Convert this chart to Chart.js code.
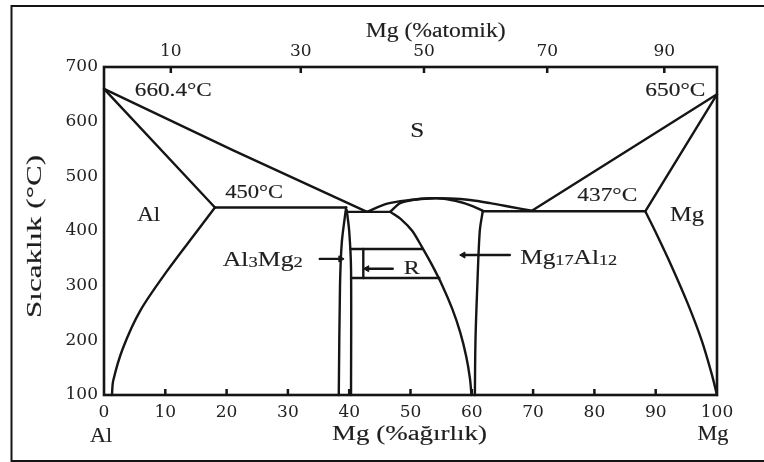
<!DOCTYPE html>
<html><head><meta charset="utf-8">
<script src="https://cdn.jsdelivr.net/npm/chart.js@4/dist/chart.umd.min.js"></script>
<style>html,body{margin:0;padding:0;background:#fff;}#wrap{width:764px;height:462px;}</style>
</head><body><div id="wrap"><canvas id="c" width="764" height="462"></canvas></div>
<script>
// ---- axis ticks ----
const bottomTicks = [0,10,20,30,40,50,60,70,80,90,100];
const topTickPos = [10.9,32.1,52.2,72.3,91.4];   // weight-% position of atomic-% ticks
const topTickLabels = ['10','30','50','70','90'];
const yTicks = [100,200,300,400,500,600,700];

// ---- phase boundaries (wt% Mg, °C) ----
const alLiquidus   = [[0,660],[21,548],[42.9,435]];
const alSolidus    = [[0,660],[18.1,443]];
const alSolvus     = [[18.1,443],[15.2,400],[10.3,327],[5.9,254],[3.1,186],[1.5,126],[1.3,100]];
const eutecticLeft = [[18.1,443],[39.5,443]];
const eutecticMid  = [[39.5,435],[46.7,435]];
const al3mg2Left   = [[38.3,100],[38.5,300],[38.8,380],[39.5,443]];
const al3mg2Right  = [[40.3,100],[40.3,330],[40.0,400],[39.6,438]];
const domeUpper    = [[42.9,435],[46.2,450],[49.9,456.7],[53.2,460],[56.5,459.5],[59.7,456.7],[63,451],[66.4,444],[69.8,437]];
const domeLower    = [[46.7,435],[48.3,451],[50.5,457],[53.2,459.5],[55.5,459],[58.1,453],[60,446],[61.8,437]];
const gammaLeft    = [[46.7,435],[48.6,420],[50.3,400],[51.9,370],[53.5,338],[55.2,300],[56.8,258],[58.1,215],[59.1,170],[59.7,130],[59.95,100]];
const gammaRight   = [[61.8,437],[61.3,400],[60.9,300],[60.6,200],[60.5,100]];
const eutecticRight= [[61.8,436],[88.3,436]];
const mgLiquidus   = [[69.8,437],[100,650]];
const mgSolidus    = [[88.3,436],[100,650]];
const mgSolvus     = [[88.3,436],[89.9,400],[92.5,338],[95.2,268],[97.5,200],[99.1,140],[100,100]];
const rTop         = [[40.3,367],[51.9,367]];
const rBottom      = [[40.3,314],[54.7,314]];
const rDivider     = [[42.3,367],[42.3,314]];
// arrows [from, to]
const arrowAl3Mg2  = [[35.2,349],[38.6,349]];
const arrowMg17    = [[66.2,356],[58.6,356]];
const arrowR       = [[47.1,331],[42.9,331]];

const straight = [alLiquidus, alSolidus, eutecticLeft, eutecticMid, eutecticRight, mgLiquidus, mgSolidus, rTop, rBottom, rDivider, arrowAl3Mg2, arrowMg17, arrowR];
const curved = [alSolvus, al3mg2Left, al3mg2Right, domeUpper, domeLower, gammaLeft, gammaRight, mgSolvus];

const INK = '#151515';
const toPts = a => a.map(p => ({x:p[0], y:p[1]}));
const datasets = [];
straight.forEach(a => datasets.push({data: toPts(a), showLine:true, borderColor:INK, borderWidth:2.4, pointRadius:0, tension:0, clip:false, borderCapStyle:'round', borderJoinStyle:'round'}));
curved.forEach(a => datasets.push({data: toPts(a), showLine:true, borderColor:INK, borderWidth:2.4, pointRadius:0, tension:0.3, clip:false, borderCapStyle:'round', borderJoinStyle:'round'}));
// arrow heads
[[arrowAl3Mg2,90],[arrowMg17,-90],[arrowR,-90]].forEach(([a,rot]) => datasets.push({
  data:[{x:a[1][0], y:a[1][1]}], showLine:false, pointStyle:'triangle', rotation:rot,
  pointRadius:3.5, backgroundColor:INK, borderColor:INK, borderWidth:1, clip:false}));

const SERIF = '"Liberation Serif", "Times New Roman", serif';
// text annotations: data coords, font size, target width
const labels = [
  {segs:[['660.4°C']], x:11.3, y:658, size:19, w:77},
  {segs:[['650°C']], x:93.2, y:658, size:19, w:60},
  {segs:[['S']], x:51.1, y:585, size:21, w:14},
  {segs:[['450°C']], x:24.5, y:472, size:19, w:58},
  {segs:[['Al']], x:7.3, y:430, size:20, w:23},
  {segs:[['437°C']], x:82.1, y:467, size:19, w:60},
  {segs:[['Mg']], x:95.1, y:431, size:20, w:34},
  {segs:[['Al'],['3',1],['Mg'],['2',1]], x:25.9, y:349, size:21, w:80},
  {segs:[['R']], x:50.2, y:333, size:19, w:16},
  {segs:[['Mg'],['17',1],['Al'],['12',1]], x:75.8, y:353, size:21, w:97}
];

function drawRich(ctx, segs, cx, cy, size, targetW, rot){
  const parts = segs.map(s => ({t:s[0], sub:!!s[1], sz: s[1] ? size*0.72 : size}));
  let natural = 0;
  parts.forEach(p => { ctx.font = p.sz + 'px ' + SERIF; p.w = ctx.measureText(p.t).width; natural += p.w; });
  const sx = targetW ? targetW / natural : 1;
  ctx.save();
  ctx.translate(cx, cy);
  if (rot) ctx.rotate(rot);
  ctx.scale(sx, 1);
  ctx.fillStyle = '#1e1e1e';
  ctx.strokeStyle = '#1e1e1e';
  ctx.lineWidth = 0.15;
  ctx.textBaseline = 'alphabetic';
  ctx.textAlign = 'left';
  let x = -natural/2;
  const base = size*0.34;
  parts.forEach(p => {
    ctx.font = p.sz + 'px ' + SERIF;
    const yy = base + (p.sub ? size*0.06 : 0);
    ctx.fillText(p.t, x, yy); ctx.strokeText(p.t, x, yy);
    x += p.w;
  });
  ctx.restore();
}

const decor = {
  id:'decor',
  afterDraw(chart){
    const ctx = chart.ctx, ca = chart.chartArea;
    const xs = chart.scales.x, ys = chart.scales.y;
    ctx.save();
    // outer frame (left, top, bottom edges; right edge lies outside the picture)
    ctx.strokeStyle = INK; ctx.lineWidth = 2;
    ctx.beginPath();
    ctx.moveTo(766, 6); ctx.lineTo(11.5, 6); ctx.lineTo(11.5, 461); ctx.lineTo(766, 461);
    ctx.stroke();
    // plot frame
    ctx.lineWidth = 2.6;
    ctx.strokeRect(ca.left, ca.top, ca.right-ca.left, ca.bottom-ca.top);
    // inward ticks
    ctx.lineWidth = 2.5;
    ctx.beginPath();
    bottomTicks.slice(1,-1).forEach(v => { const px = xs.getPixelForValue(v); ctx.moveTo(px, ca.bottom); ctx.lineTo(px, ca.bottom-6); });
    topTickPos.forEach(v => { const px = xs.getPixelForValue(v); ctx.moveTo(px, ca.top); ctx.lineTo(px, ca.top+6); });
    ctx.stroke();
    ctx.restore();
    labels.forEach(l => drawRich(ctx, l.segs, xs.getPixelForValue(l.x), ys.getPixelForValue(l.y), l.size, l.w, 0));
    // axis titles and end labels
    drawRich(ctx, [['Mg (%ağırlık)']], xs.getPixelForValue(50)-1, ca.bottom+38, 20, 155, 0);
    drawRich(ctx, [['Mg (%atomik)']], xs.getPixelForValue(54.1), ca.top-37, 20, 140, 0);
    drawRich(ctx, [['Al']], xs.getPixelForValue(0)-3, ca.bottom+40, 20, 22, 0);
    drawRich(ctx, [['Mg']], xs.getPixelForValue(100)-4, ca.bottom+38, 20, 31, 0);
    drawRich(ctx, [['Sıcaklık (°C)']], 34, ys.getPixelForValue(390), 20, 163, -Math.PI/2);
  }
};

const tickFont = {family:'"DejaVu Serif", serif', size:17};
new Chart(document.getElementById('c'), {
  type:'scatter',
  data:{datasets},
  options:{
    responsive:false, animation:false, events:[],
    layout:{padding:{left:0,right:47,top:0,bottom:0}},
    plugins:{legend:{display:false}, tooltip:{enabled:false}},
    scales:{
      x:{type:'linear', position:'bottom', min:0, max:100,
         afterBuildTicks:s=>{ s.ticks = bottomTicks.map(v=>({value:v})); },
         afterFit:s=>{ s.height = 67; },
         grid:{display:false, drawTicks:false}, border:{display:false},
         ticks:{font:tickFont, color:'#222', padding:7, maxRotation:0, autoSkip:false}},
      xTop:{type:'linear', position:'top', min:0, max:100,
         afterBuildTicks:s=>{ s.ticks = topTickPos.map(v=>({value:v})); },
         afterFit:s=>{ s.height = 67; },
         grid:{display:false, drawTicks:false}, border:{display:false},
         ticks:{font:tickFont, color:'#222', padding:5, maxRotation:0, autoSkip:false,
                callback:(v,i)=>topTickLabels[i]}},
      y:{type:'linear', position:'left', min:100, max:700,
         afterBuildTicks:s=>{ s.ticks = yTicks.map(v=>({value:v})); },
         afterFit:s=>{ s.width = 104; },
         grid:{display:false, drawTicks:false}, border:{display:false},
         ticks:{font:tickFont, color:'#222', padding:6}}
    }
  },
  plugins:[decor]
});
</script></body></html>
